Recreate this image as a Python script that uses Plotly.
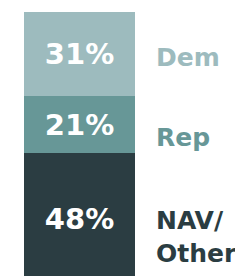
import plotly.graph_objects as go

categories = ["NAV/<br>Other", "Rep", "Dem"]
values = [48, 21, 31]
colors = ["#2b3d42", "#679797", "#9dbbbe"]
label_y = [0.171, 0.540, 0.833]

fig = go.Figure()
for cat, val, col in zip(categories, values, colors):
    fig.add_trace(go.Bar(
        x=[0], y=[val], width=1, name=cat,
        marker=dict(color=col, line=dict(width=0)),
        text=[f"{val}%"], textposition="inside", insidetextanchor="middle",
        textangle=0,
        textfont=dict(family="DejaVu Sans", size=29, color="white", weight="bold"),
        hoverinfo="skip",
    ))

for cat, col, ly in zip(categories, colors, label_y):
    fig.add_annotation(
        xref="paper", yref="paper", x=147/243, y=ly,
        xanchor="left", yanchor="middle", align="left",
        text=cat, showarrow=False, borderpad=0,
        font=dict(family="DejaVu Sans", size=25, color=col, weight="bold"),
    )

fig.update_layout(
    barmode="stack", bargap=0,
    width=243, height=276,
    margin=dict(l=0, r=0, t=4, b=0),
    paper_bgcolor="white", plot_bgcolor="white",
    showlegend=False,
    uniformtext=dict(minsize=29, mode="show"),
    xaxis=dict(range=[-0.5 - 17/119, -0.5 + 243/119], visible=False, fixedrange=True),
    yaxis=dict(range=[0, 100], visible=False, fixedrange=True),
)

fig.write_html("out.html", config={"displayModeBar": False})
